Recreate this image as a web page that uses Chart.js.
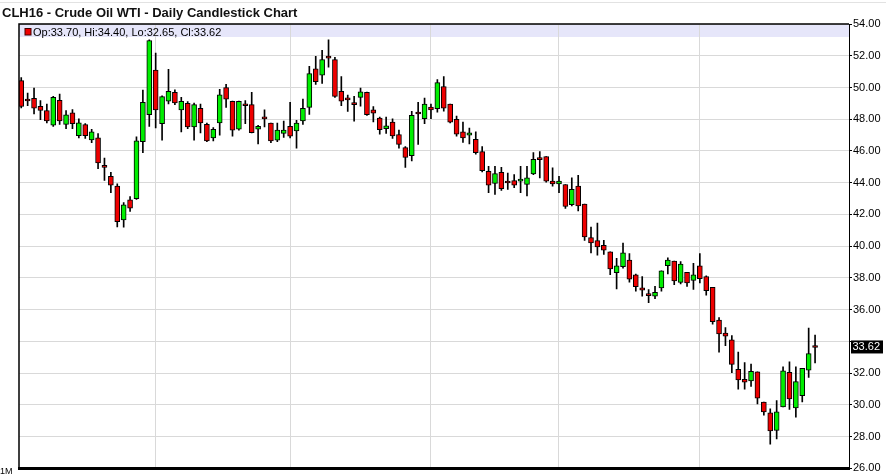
<!DOCTYPE html>
<html>
<head>
<meta charset="utf-8">
<script src="https://cdn.jsdelivr.net/npm/chart.js@4.4.1/dist/chart.umd.min.js"></script>
<style>
  html, body { margin: 0; padding: 0; background: #fff; }
  #wrap { width: 886px; height: 476px; position: relative; }
</style>
</head>
<body>
<div id="wrap"><canvas id="chart"></canvas></div>
<script>
// CLH16 daily candles, Aug 2015 - Jan 2016
const dates = [
  '8/3','8/4','8/5','8/6','8/7','8/10','8/11','8/12','8/13','8/14','8/17','8/18','8/19','8/20','8/21','8/24','8/25','8/26','8/27','8/28','8/31',
  '9/1','9/2','9/3','9/4','9/8','9/9','9/10','9/11','9/14','9/15','9/16','9/17','9/18','9/21','9/22','9/23','9/24','9/25','9/28','9/29','9/30',
  '10/1','10/2','10/5','10/6','10/7','10/8','10/9','10/12','10/13','10/14','10/15','10/16','10/19','10/20','10/21','10/22','10/23','10/26','10/27','10/28','10/29','10/30',
  '11/2','11/3','11/4','11/5','11/6','11/9','11/10','11/11','11/12','11/13','11/16','11/17','11/18','11/19','11/20','11/23','11/24','11/25','11/27','11/30',
  '12/1','12/2','12/3','12/4','12/7','12/8','12/9','12/10','12/11','12/14','12/15','12/16','12/17','12/18','12/21','12/22','12/23','12/24','12/28','12/29','12/30','12/31',
  '1/4','1/5','1/6','1/7','1/8','1/11','1/12','1/13','1/14','1/15','1/19','1/20','1/21','1/22','1/25','1/26','1/27','1/28','1/29'
];

const opens = [
  50.43,49.18,49.32,48.82,48.55,47.62,49.19,47.68,48.41,46.96,47.66,46.69,46.83,45.09,44.41,43.79,41.65,42.92,43.00,46.58,48.28,
  51.09,47.72,49.13,49.69,48.59,49.00,47.51,48.69,47.68,46.83,47.76,50.00,49.13,47.37,48.88,48.92,47.37,48.04,47.76,46.68,47.10,
  47.55,47.27,47.89,48.75,51.18,50.78,51.87,51.76,49.75,49.24,48.96,49.38,49.69,48.59,48.07,47.41,47.82,47.04,46.21,45.71,48.35,48.03,
  48.76,48.67,50.06,48.96,47.99,47.20,46.99,46.73,45.96,44.72,43.95,44.66,44.00,44.14,44.10,43.89,44.55,45.47,45.65,44.10,
  43.93,43.89,42.61,43.79,42.65,40.54,40.35,40.06,39.65,38.34,38.71,39.13,38.20,37.37,37.00,36.85,37.37,38.78,39.07,37.72,38.36,37.85,
  38.76,38.09,37.41,35.34,34.53,34.10,32.24,31.61,31.51,32.09,30.18,29.50,28.40,29.87,32.05,29.81,30.58,32.19,33.70
];
const highs = [
  50.62,49.65,49.96,49.17,48.96,49.45,49.59,48.55,48.61,48.03,47.72,47.37,47.10,45.55,44.66,43.93,42.75,43.12,46.89,49.83,53.00,
  52.17,49.48,51.14,49.85,49.38,49.11,49.02,48.96,47.76,47.47,49.89,50.20,49.15,49.15,49.17,49.69,47.62,48.59,47.76,47.76,47.89,
  49.07,47.93,49.27,51.34,51.96,52.34,53.00,51.90,50.68,49.52,49.44,49.96,49.71,48.80,48.14,48.14,48.03,47.31,46.27,48.49,49.07,49.34,
  48.96,50.50,50.68,48.96,48.20,47.82,47.45,47.20,46.27,45.03,45.03,44.97,44.61,44.51,45.03,45.03,45.90,45.96,45.65,44.93,
  44.41,43.89,44.30,44.47,42.65,41.20,41.45,40.37,39.65,39.23,40.20,39.54,38.24,38.09,37.27,37.47,38.45,39.27,39.07,39.03,38.36,38.92,
  39.54,38.14,37.41,35.51,34.88,34.37,33.33,32.67,32.57,32.09,30.18,29.75,30.27,32.40,32.71,32.40,32.30,34.84,34.40
];
const lows = [
  48.72,48.86,48.34,47.97,47.76,47.55,47.68,47.41,47.41,46.83,46.79,46.52,44.89,44.14,43.37,41.22,41.20,42.19,42.95,45.90,47.55,
  47.45,46.68,48.96,48.92,47.20,47.41,46.68,47.14,46.58,46.64,46.99,48.75,46.93,47.31,47.72,47.14,46.44,47.51,46.52,46.58,46.85,
  46.83,46.17,47.68,48.30,50.20,50.25,51.28,49.38,48.86,48.49,47.87,48.82,48.24,47.83,47.06,47.10,46.79,46.17,44.97,45.38,46.42,47.72,
  48.03,48.45,48.51,47.76,46.93,46.54,46.44,45.80,44.68,43.37,43.27,43.52,43.58,43.68,43.37,43.17,44.51,44.30,44.04,43.79,
  43.37,42.38,42.54,42.23,40.37,39.58,39.44,39.48,38.20,37.31,38.61,37.74,37.16,36.85,36.44,36.69,37.16,38.26,37.58,37.62,37.47,37.27,
  37.68,36.91,35.09,33.33,33.74,32.03,30.99,30.99,31.16,30.06,29.36,27.53,27.85,29.87,29.71,29.23,30.19,31.74,32.65
];
const closes = [
  48.80,49.15,48.70,48.55,47.89,49.38,47.89,48.28,47.72,47.78,46.96,47.21,45.24,44.97,43.85,41.55,42.60,42.40,46.64,49.07,52.96,
  48.59,49.42,49.75,49.02,49.13,47.51,48.92,47.76,46.64,47.37,49.54,49.27,47.31,49.13,48.85,47.16,47.55,48.02,46.64,47.31,47.31,
  46.93,47.76,48.69,50.87,50.37,51.76,51.85,49.44,49.13,49.22,48.92,49.73,48.28,48.38,47.35,47.58,46.95,46.42,45.59,48.24,48.33,48.96,
  48.59,50.31,48.69,47.82,47.06,46.83,47.14,45.90,44.76,43.85,44.57,43.62,43.98,43.85,44.20,44.30,45.48,45.45,44.10,43.93,
  44.10,42.50,43.58,42.54,40.58,40.20,39.96,39.75,38.57,38.76,39.58,37.93,37.45,37.23,36.89,37.10,38.45,39.13,37.82,38.88,37.68,38.20,
  37.95,37.20,35.24,34.47,34.33,32.55,31.57,31.43,32.11,30.43,29.56,28.36,29.56,32.15,30.37,31.47,32.30,33.23,33.62
];

const upColor = '#00ee00';
const downColor = '#ee0000';
const gridColor = '#d9d9d9';
const last = closes.length - 1;

// first trading day of each month gets a vertical grid line
const monthStarts = dates
  .map((d, i) => (i > 0 && d.split('/')[0] !== dates[i - 1].split('/')[0]) ? i : -1)
  .filter(i => i >= 0);

const bodies = dates.map((d, i) => ({ x: i, y: [opens[i], closes[i]] }));
const wicks = dates.map((d, i) => ({ x: i, y: [lows[i], highs[i]] }));
const bodyColors = dates.map((d, i) => closes[i] > opens[i] ? upColor : downColor);

const decorPlugin = {
  id: 'decor',
  beforeDraw(chart) {
    const { ctx, chartArea: a } = chart;
    ctx.save();
    ctx.fillStyle = '#fff';
    ctx.fillRect(0, 0, chart.width, chart.height);
    ctx.strokeStyle = '#e2e2e2';
    ctx.lineWidth = 1;
    ctx.beginPath(); ctx.moveTo(0, 2.5); ctx.lineTo(chart.width, 2.5); ctx.stroke();
    // legend band
    ctx.fillStyle = '#e6e6fa';
    ctx.fillRect(a.left, a.top, a.right - a.left, 13);
    ctx.restore();
  },
  afterDraw(chart) {
    const { ctx, chartArea: a } = chart;
    const y = chart.scales.y;
    ctx.save();
    // frame left + top
    ctx.strokeStyle = '#000';
    ctx.lineWidth = 1.5;
    ctx.beginPath();
    ctx.moveTo(a.left, a.bottom); ctx.lineTo(a.left, a.top); ctx.lineTo(a.right, a.top);
    ctx.stroke();

    // title
    ctx.fillStyle = '#111';
    ctx.font = 'bold 13px "Liberation Sans", Arial, sans-serif';
    ctx.textBaseline = 'alphabetic';
    ctx.fillText('CLH16 - Crude Oil WTI - Daily Candlestick Chart', 2, 17);

    // legend
    ctx.fillStyle = downColor;
    ctx.fillRect(25, 28.5, 6, 6.5);
    ctx.strokeStyle = '#400';
    ctx.lineWidth = 1;
    ctx.strokeRect(25, 28.5, 6, 6.5);
    ctx.fillStyle = '#000';
    ctx.font = '11px "Liberation Sans", Arial, sans-serif';
    ctx.fillText('Op:' + opens[last].toFixed(2) + ', Hi:' + highs[last].toFixed(2) +
      ', Lo:' + lows[last].toFixed(2) + ', Cl:' + closes[last].toFixed(2), 33, 35.5);

    // last price marker
    const py = y.getPixelForValue(closes[last]);
    ctx.fillStyle = '#000';
    ctx.fillRect(851, py - 7, 32, 13);
    ctx.fillStyle = '#fff';
    ctx.textBaseline = 'middle';
    ctx.fillText(closes[last].toFixed(2), 852.5, py);

    // period label
    ctx.fillStyle = '#000';
    ctx.font = '9px "Liberation Sans", Arial, sans-serif';
    ctx.textBaseline = 'alphabetic';
    ctx.fillText('1M', 0, 474);
    ctx.restore();
  }
};

new Chart(document.getElementById('chart'), {
  type: 'bar',
  data: {
    datasets: [
      {
        label: 'Body',
        data: bodies,
        backgroundColor: bodyColors,
        borderColor: '#000',
        borderWidth: 1,
        borderSkipped: false,
        barThickness: 5,
        minBarLength: 2,
        grouped: false,
        order: 0
      },
      {
        label: 'Wick',
        data: wicks,
        backgroundColor: '#000',
        barThickness: 1,
        grouped: false,
        order: 1
      }
    ]
  },
  options: {
    responsive: true,
    maintainAspectRatio: false,
    animation: false,
    layout: { padding: { left: 19, top: 24, right: 0, bottom: 1 } },
    plugins: {
      legend: { display: false },
      tooltip: {
        callbacks: {
          title: items => dates[items[0].dataIndex],
          label: item => {
            const i = item.dataIndex;
            return 'O ' + opens[i] + '  H ' + highs[i] + '  L ' + lows[i] + '  C ' + closes[i];
          }
        }
      }
    },
    scales: {
      x: {
        type: 'linear',
        min: -0.35,
        max: 129.3,
        offset: false,
        afterBuildTicks: axis => { axis.ticks = monthStarts.map(v => ({ value: v })); },
        afterFit: axis => { axis.height = 0; },
        ticks: { display: false },
        grid: { color: gridColor, offset: false, drawTicks: false },
        border: { display: true, color: '#000', width: 3 }
      },
      y: {
        position: 'right',
        min: 26,
        max: 54,
        afterFit: axis => { axis.width = 37; },
        ticks: {
          stepSize: 2,
          color: '#000',
          padding: 1,
          font: { family: '"Liberation Sans", Arial, sans-serif', size: 11 },
          callback: v => Math.abs(v - closes[last]) < 0.6 ? '' : v.toFixed(2)
        },
        grid: { color: gridColor, tickColor: '#000', tickLength: 3 },
        border: { color: '#000', width: 1 }
      }
    }
  },
  plugins: [decorPlugin]
});
</script>
</body>
</html>
